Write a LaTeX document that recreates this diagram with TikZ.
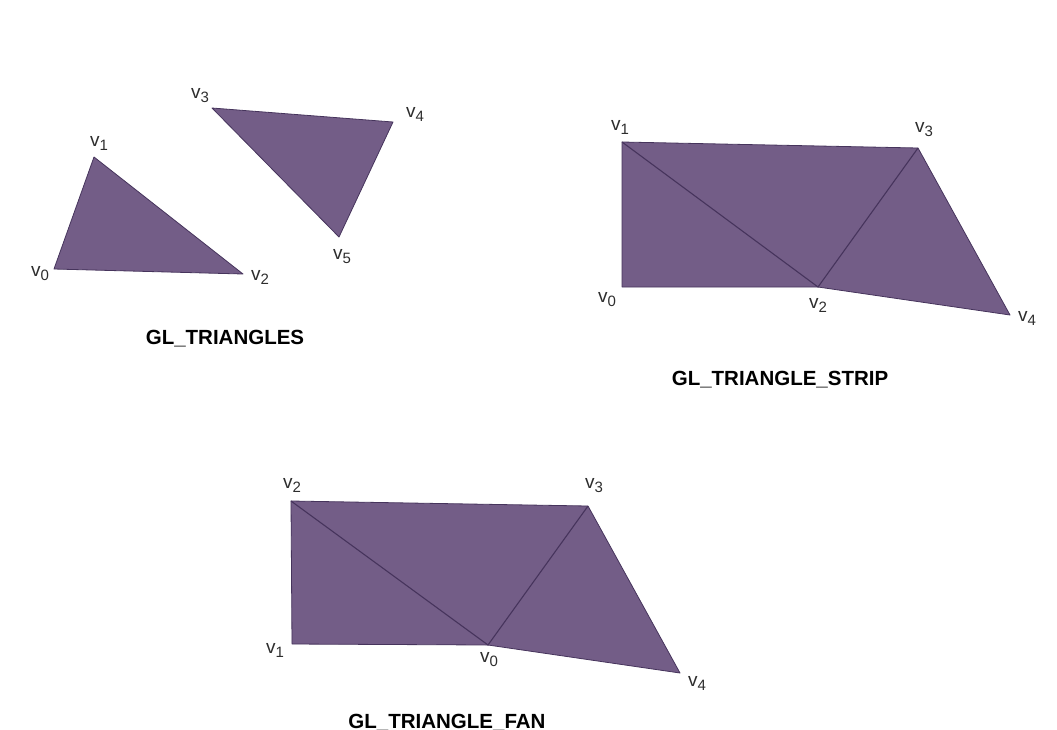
\documentclass[tikz,border=0pt]{standalone}
\usepackage{fontspec}
\setmainfont{Liberation Sans}
\usetikzlibrary{positioning}
\definecolor{tri}{RGB}{115,93,135}
\definecolor{triedge}{RGB}{70,52,92}
\definecolor{lbl}{RGB}{45,45,45}
\newcommand{\vx}[1]{v\raisebox{-0.4ex}{\fontsize{15}{15}\selectfont #1}}
\tikzset{
  face/.style={fill=tri,draw=triedge,line width=0.8pt,line join=round},
  seam/.style={draw=triedge,line width=1.1pt},
  vlabel/.style={font=\fontsize{19}{19}\selectfont,text=lbl,inner sep=0pt},
  title/.style={font=\fontsize{20.5}{20.5}\selectfont\bfseries,inner sep=0pt,anchor=base},
}

\begin{document}
\begin{tikzpicture}[x=1pt,y=-1pt]
  \useasboundingbox (0,0) rectangle (1057,729);

  % GL_TRIANGLES
  \coordinate (t0) at (54,269);
  \coordinate (t1) at (94,157);
  \coordinate (t2) at (243,274);
  \coordinate (t3) at (212,108);
  \coordinate (t4) at (393,122);
  \coordinate (t5) at (339,237);
  \draw[face] (t0) -- (t1) -- (t2) -- cycle;
  \draw[face] (t3) -- (t4) -- (t5) -- cycle;
  \node[vlabel] (lt0) at (40,274) {\vx{0}};
  \node[vlabel] (lt1) at (99,143) {\vx{1}};
  \node[vlabel] (lt2) at (260,277) {\vx{2}};
  \node[vlabel] (lt3) at (200,96) {\vx{3}};
  \node[vlabel] (lt4) at (415,114) {\vx{4}};
  \node[vlabel] (lt5) at (342,257) {\vx{5}};
  \node[title] (ttri) at (225,344) {GL\_TRIANGLES};

  % GL_TRIANGLE_STRIP
  \coordinate (s0) at (622,287);
  \coordinate (s1) at (622,142);
  \coordinate (s2) at (818,287);
  \coordinate (s3) at (918,148);
  \coordinate (s4) at (1010,315);
  \draw[face] (s0) -- (s1) -- (s3) -- (s4) -- (s2) -- cycle;
  \draw[seam] (s1) -- (s2) -- (s3);
  \node[vlabel] (ls0) at (607,300) {\vx{0}};
  \node[vlabel] (ls1) at (620,127) {\vx{1}};
  \node[vlabel] (ls2) at (818,305) {\vx{2}};
  \node[vlabel] (ls3) at (924,130) {\vx{3}};
  \node[vlabel] (ls4) at (1027,318) {\vx{4}};
  \node[title] (tstrip) at (780,385) {GL\_TRIANGLE\_STRIP};

  % GL_TRIANGLE_FAN
  \coordinate (f0) at (488,645);
  \coordinate (f1) at (292,644);
  \coordinate (f2) at (291,501);
  \coordinate (f3) at (588,506);
  \coordinate (f4) at (680,673);
  \draw[face] (f1) -- (f2) -- (f3) -- (f4) -- (f0) -- cycle;
  \draw[seam] (f2) -- (f0) -- (f3);
  \node[vlabel] (lf0) at (489,660) {\vx{0}};
  \node[vlabel] (lf1) at (275,650) {\vx{1}};
  \node[vlabel] (lf2) at (292,485) {\vx{2}};
  \node[vlabel] (lf3) at (594,486) {\vx{3}};
  \node[vlabel] (lf4) at (697,683) {\vx{4}};
  \node[title] (tfan) at (447,728.5) {GL\_TRIANGLE\_FAN};
\end{tikzpicture}
\end{document}
